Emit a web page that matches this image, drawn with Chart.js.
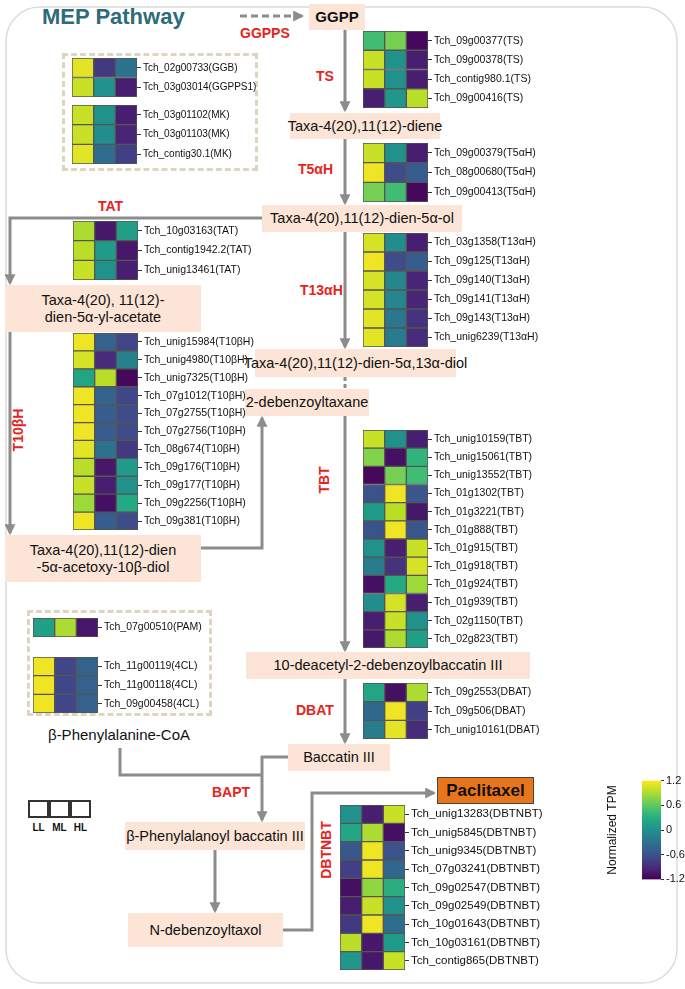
<!DOCTYPE html>
<html>
<head>
<meta charset="utf-8">
<script src="https://cdn.jsdelivr.net/npm/chart.js@4.4.1/dist/chart.umd.min.js"></script>
<style>
  html, body { margin: 0; padding: 0; background: #fff; }
  body { width: 685px; height: 989px; overflow: hidden; font-family: "Liberation Sans", Arial, sans-serif; }
  #stage { position: relative; width: 685px; height: 989px; }
  .box { position: absolute; background: #fce4d6; color: #111; font-size: 14.5px; display: flex; align-items: center; justify-content: center; text-align: center; line-height: 1.15; white-space: nowrap; }
  .enz { position: absolute; color: #e52421; font-weight: bold; font-size: 14px; white-space: nowrap; }
  .rot { transform: translate(-50%, -50%) rotate(-90deg); }
  .dash { position: absolute; border: 3px dashed #ddd5c0; box-sizing: border-box; }
  canvas { position: absolute; }
</style>
</head>
<body>
<div id="stage">
<svg width="685" height="989" style="position:absolute;left:0;top:0">
  <defs>
    <marker id="ah" viewBox="0 0 10 10" refX="8" refY="5" markerWidth="11" markerHeight="11" markerUnits="userSpaceOnUse" orient="auto">
      <path d="M0,0 L10,5 L0,10 z" fill="#8c8c8c"/>
    </marker>
  </defs>
  <rect x="6" y="7" width="671" height="976" rx="34" fill="none" stroke="#dcdcdc" stroke-width="1.5"/>
  <g stroke="#8c8c8c" stroke-width="3" fill="none">
    <line x1="240" y1="16" x2="302" y2="16" stroke-dasharray="7,4" marker-end="url(#ah)"/>
    <line x1="345" y1="30" x2="345" y2="110" marker-end="url(#ah)"/>
    <line x1="345" y1="139" x2="345" y2="203" marker-end="url(#ah)"/>
    <polyline points="262,218 10,218 10,283" marker-end="url(#ah)"/>
    <line x1="345" y1="232" x2="345" y2="347" marker-end="url(#ah)"/>
    <line x1="10" y1="332" x2="10" y2="533" marker-end="url(#ah)"/>
    <polyline points="201,548 262,548 262,418" marker-end="url(#ah)"/>
    <line x1="345" y1="377" x2="345" y2="389" stroke-dasharray="4,3"/>
    <line x1="345" y1="416" x2="345" y2="650" marker-end="url(#ah)"/>
    <line x1="345" y1="679" x2="345" y2="742" marker-end="url(#ah)"/>
    <polyline points="120,748 120,775 262,775"/>
    <polyline points="288,757 262,757 262,820" marker-end="url(#ah)"/>
    <line x1="215" y1="850" x2="215" y2="911" marker-end="url(#ah)"/>
    <polyline points="283,930 312,930 312,793 434,793" marker-end="url(#ah)"/>
  </g>
</svg>

<div style="position:absolute;left:42px;top:4px;font-size:22px;font-weight:bold;color:#2f6b78">MEP Pathway</div>
<div class="enz" style="left:240px;top:25px">GGPPS</div>
<div class="box" style="left:309px;top:4px;width:56px;height:26px;font-weight:bold;font-size:15px">GGPP</div>

<div class="dash" style="left:62px;top:53px;width:196px;height:118px"></div>
<div class="dash" style="left:27px;top:610px;width:185px;height:106px"></div>

<div class="enz" style="left:316px;top:68px">TS</div>
<div class="box" style="left:290px;top:113px;width:150px;height:26px">Taxa-4(20),11(12)-diene</div>
<div class="enz" style="left:298px;top:161px">T5αH</div>
<div class="box" style="left:262px;top:205px;width:200px;height:27px">Taxa-4(20),11(12)-dien-5α-ol</div>
<div class="enz" style="left:98px;top:198px">TAT</div>
<div class="enz" style="left:300px;top:282px">T13αH</div>
<div class="box" style="left:255px;top:349px;width:201px;height:28px">Taxa-4(20),11(12)-dien-5α,13α-diol</div>
<div class="box" style="left:5px;top:285px;width:196px;height:47px">Taxa-4(20), 11(12)-<br>dien-5α-yl-acetate</div>
<div class="enz rot" style="left:18px;top:430px">T10βH</div>
<div class="box" style="left:5px;top:535px;width:196px;height:47px">Taxa-4(20),11(12)-dien<br>-5α-acetoxy-10β-diol</div>
<div class="box" style="left:245px;top:389px;width:124px;height:27px">2-debenzoyltaxane</div>
<div class="enz rot" style="left:324px;top:480px">TBT</div>
<div class="box" style="left:246px;top:652px;width:284px;height:27px">10-deacetyl-2-debenzoylbaccatin III</div>
<div class="enz" style="left:296px;top:702px">DBAT</div>
<div class="box" style="left:288px;top:744px;width:102px;height:27px">Baccatin III</div>
<div class="box" style="left:437px;top:777px;width:97px;height:27px;background:#e8751a;border:1.5px solid #444;box-sizing:border-box;font-weight:bold;font-size:17px">Paclitaxel</div>
<div class="enz rot" style="left:326px;top:850px">DBTNBT</div>
<div style="position:absolute;left:48px;top:726px;font-size:15px;color:#111">β-Phenylalanine-CoA</div>
<div class="enz" style="left:212px;top:784px">BAPT</div>
<div class="box" style="left:125px;top:822px;width:180px;height:28px">β-Phenylalanoyl baccatin III</div>
<div class="box" style="left:128px;top:913px;width:155px;height:34px">N-debenzoyltaxol</div>

<div id="legend" style="position:absolute;left:28px;top:800px"></div>
</div>

<script>
// expression levels (columns of every heatmap)
const levels = ['LL', 'ML', 'HL'];

// normalized TPM (row z-scores)
const ggpsGenes = ['Tch_02g00733(GGB)', 'Tch_03g03014(GGPPS1)'];
const ggpsTPM = [[1.1, -0.8, -0.3], [1.0, 0.0, -1.0]];

const mkGenes = ['Tch_03g01102(MK)', 'Tch_03g01103(MK)', 'Tch_contig30.1(MK)'];
const mkTPM = [[1.0, 0.0, -1.0], [1.0, -0.05, -0.95], [1.1, -0.35, -0.75]];

const tsGenes = ['Tch_09g00377(TS)', 'Tch_09g00378(TS)', 'Tch_contig980.1(TS)', 'Tch_09g00416(TS)'];
const tsTPM = [[0.45, 0.7, -1.15], [1.0, 0.0, -1.0], [1.0, 0.0, -1.0], [-1.0, 0.05, 0.95]];

const t5Genes = ['Tch_09g00379(T5αH)', 'Tch_08g00680(T5αH)', 'Tch_09g00413(T5αH)'];
const t5TPM = [[1.0, 0.0, -1.0], [1.15, -0.65, -0.5], [0.7, 0.45, -1.15]];

const tatGenes = ['Tch_10g03163(TAT)', 'Tch_contig1942.2(TAT)', 'Tch_unig13461(TAT)'];
const tatTPM = [[0.9, -1.05, 0.15], [0.95, 0.1, -1.05], [1.0, 0.0, -1.0]];

const t13Genes = ['Tch_03g1358(T13αH)', 'Tch_09g125(T13αH)', 'Tch_09g140(T13αH)',
  'Tch_09g141(T13αH)', 'Tch_09g143(T13αH)', 'Tch_unig6239(T13αH)'];
const t13TPM = [[1.05, -0.05, -1.0], [1.15, -0.65, -0.5], [1.05, -0.1, -0.95],
  [1.05, -0.1, -0.95], [1.1, -0.25, -0.85], [1.1, -0.2, -0.9]];

const t10Genes = ['Tch_unig15984(T10βH)', 'Tch_unig4980(T10βH)', 'Tch_unig7325(T10βH)',
  'Tch_07g1012(T10βH)', 'Tch_07g2755(T10βH)', 'Tch_07g2756(T10βH)', 'Tch_08g674(T10βH)',
  'Tch_09g176(T10βH)', 'Tch_09g177(T10βH)', 'Tch_09g2256(T10βH)', 'Tch_09g381(T10βH)'];
const t10TPM = [[1.15, -0.45, -0.7], [1.05, -0.9, -0.15], [0.2, 0.95, -1.15],
  [1.15, -0.45, -0.7], [1.15, -0.5, -0.65], [1.15, -0.5, -0.65], [1.1, -0.3, -0.8],
  [0.95, -1.05, 0.1], [1.0, -1.0, 0.0], [0.85, -1.1, 0.25], [1.15, -0.5, -0.65]];

const tbtGenes = ['Tch_unig10159(TBT)', 'Tch_unig15061(TBT)', 'Tch_unig13552(TBT)',
  'Tch_01g1302(TBT)', 'Tch_01g3221(TBT)', 'Tch_01g888(TBT)', 'Tch_01g915(TBT)',
  'Tch_01g918(TBT)', 'Tch_01g924(TBT)', 'Tch_01g939(TBT)', 'Tch_02g1150(TBT)', 'Tch_02g823(TBT)'];
const tbtTPM = [[1.0, 0.0, -1.0], [0.75, -1.1, 0.35], [-1.15, 0.7, 0.45],
  [-0.6, 1.15, -0.55], [0.1, 0.95, -1.05], [-0.6, 1.15, -0.55], [0.0, -1.0, 1.0],
  [-0.2, -0.85, 1.05], [-1.1, 0.25, 0.85], [-0.05, 1.05, -1.0], [-1.0, 1.0, 0.0], [-1.05, 0.9, 0.15]];

const dbatGenes = ['Tch_09g2553(DBAT)', 'Tch_09g506(DBAT)', 'Tch_unig10161(DBAT)'];
const dbatTPM = [[0.2, -1.1, 0.9], [-0.4, 1.15, -0.75], [-0.2, 1.1, -0.9]];

const pamGenes = ['Tch_07g00510(PAM)'];
const pamTPM = [[0.15, 0.9, -1.05]];

const clGenes = ['Tch_11g00119(4CL)', 'Tch_11g00118(4CL)', 'Tch_09g00458(4CL)'];
const clTPM = [[1.15, -0.7, -0.45], [1.15, -0.7, -0.45], [1.15, -0.7, -0.45]];

const dbtnbtGenes = ['Tch_unig13283(DBTNBT)', 'Tch_unig5845(DBTNBT)', 'Tch_unig9345(DBTNBT)',
  'Tch_07g03241(DBTNBT)', 'Tch_09g02547(DBTNBT)', 'Tch_09g02549(DBTNBT)',
  'Tch_10g01643(DBTNBT)', 'Tch_10g03161(DBTNBT)', 'Tch_contig865(DBTNBT)'];
const dbtnbtTPM = [[0.0, -1.0, 1.0], [0.2, 0.9, -1.1], [-0.55, 1.15, -0.6],
  [-0.75, 1.15, -0.4], [-1.1, 0.8, 0.3], [-1.0, 1.0, 0.0],
  [-0.8, 1.15, -0.35], [0.95, -1.05, 0.1], [0.05, -1.05, 1.0]];

// colour bar
const colorRange = [-1.2, 1.2];
const colorStep = 0.6;

// viridis
const viridisStops = ['#440154', '#482475', '#414487', '#355f8d', '#2a788e', '#21918c',
  '#22a884', '#44bf70', '#7ad151', '#bddf26', '#fde725'];

function hexToRgb(h) {
  return [parseInt(h.slice(1, 3), 16), parseInt(h.slice(3, 5), 16), parseInt(h.slice(5, 7), 16)];
}

function viridis(v) {
  let t = (v - colorRange[0]) / (colorRange[1] - colorRange[0]);
  t = Math.max(0, Math.min(1, t));
  const p = t * (viridisStops.length - 1);
  const i = Math.min(viridisStops.length - 2, Math.floor(p));
  const f = p - i;
  const a = hexToRgb(viridisStops[i]), b = hexToRgb(viridisStops[i + 1]);
  const c = a.map((x, k) => Math.round(x + (b[k] - x) * f));
  return `rgb(${c[0]},${c[1]},${c[2]})`;
}

const CELL_W = 21.7;
const stage = document.getElementById('stage');

function heatmap(genes, tpm, x, y, rowH, labelW, fontSize) {
  const cv = document.createElement('canvas');
  const w = Math.round(CELL_W * levels.length + labelW);
  const h = Math.round(rowH * genes.length);
  cv.width = w;
  cv.height = h;
  cv.style.left = x + 'px';
  cv.style.top = y + 'px';
  stage.appendChild(cv);

  new Chart(cv, {
    type: 'bar',
    data: {
      labels: genes,
      datasets: levels.map((lv, j) => ({
        label: lv,
        data: genes.map(() => 1),
        backgroundColor: tpm.map(r => viridis(r[j])),
        borderColor: '#555',
        borderWidth: 1,
        borderSkipped: false,
        barPercentage: 1,
        categoryPercentage: 1
      }))
    },
    options: {
      indexAxis: 'y',
      responsive: false,
      animation: false,
      layout: { padding: 0 },
      plugins: { legend: { display: false }, tooltip: { enabled: false } },
      scales: {
        x: { stacked: true, min: 0, max: levels.length, display: false },
        y: {
          stacked: true,
          position: 'right',
          border: { display: false },
          grid: { drawOnChartArea: false, offset: false, tickLength: 4, color: '#333' },
          ticks: { color: '#111', padding: 2, font: { size: fontSize, family: 'Liberation Sans' } },
          afterFit: s => { s.width = labelW; s.paddingTop = 0; s.paddingBottom = 0; }
        }
      }
    }
  });
}

heatmap(ggpsGenes, ggpsTPM, 72, 58, 19.5, 125, 10);
heatmap(mkGenes, mkTPM, 72, 105, 19.5, 125, 10);
heatmap(tsGenes, tsTPM, 363, 31, 19.25, 170, 10.5);
heatmap(t5Genes, t5TPM, 363, 143, 19.7, 170, 10.5);
heatmap(tatGenes, tatTPM, 73, 221, 19.7, 150, 10.5);
heatmap(t13Genes, t13TPM, 363, 233, 19, 170, 10.5);
heatmap(t10Genes, t10TPM, 73, 333, 17.9, 150, 10.5);
heatmap(tbtGenes, tbtTPM, 363, 430, 18.2, 170, 10.5);
heatmap(dbatGenes, dbatTPM, 363, 683, 18.5, 170, 10.5);
heatmap(pamGenes, pamTPM, 33, 618, 19, 140, 10.5);
heatmap(clGenes, clTPM, 33, 657, 18.5, 140, 10.5);
heatmap(dbtnbtGenes, dbtnbtTPM, 340, 805, 18.3, 200, 11.5);

// colour bar
(function () {
  const cv = document.createElement('canvas');
  cv.width = 90;
  cv.height = 116;
  cv.style.left = '595px';
  cv.style.top = '772px';
  stage.appendChild(cv);
  new Chart(cv, {
    type: 'bar',
    data: {
      labels: [''],
      datasets: [{
        data: [colorRange],
        yAxisID: 'y',
        barPercentage: 1,
        categoryPercentage: 1,
        backgroundColor: c => {
          const a = c.chart.chartArea;
          if (!a) return viridisStops[5];
          const g = c.chart.ctx.createLinearGradient(0, a.bottom, 0, a.top);
          viridisStops.forEach((s, i) => g.addColorStop(i / (viridisStops.length - 1), s));
          return g;
        }
      }]
    },
    options: {
      responsive: false,
      animation: false,
      layout: { padding: { top: 7, bottom: 7 } },
      plugins: { legend: { display: false }, tooltip: { enabled: false } },
      scales: {
        x: { display: false },
        y: {
          position: 'right', min: colorRange[0], max: colorRange[1],
          border: { display: false },
          grid: { drawOnChartArea: false, tickLength: 3, color: '#333' },
          ticks: {
            stepSize: colorStep, color: '#111', padding: 2,
            font: { size: 11, family: 'Liberation Sans' },
            callback: v => Math.abs(v) < 1e-9 ? '0' : String(+v.toFixed(1))
          },
          afterFit: s => { s.width = 24; }
        },
        yl: {
          position: 'left', min: colorRange[0], max: colorRange[1],
          border: { display: false },
          grid: { display: false },
          ticks: { display: false },
          title: { display: true, text: 'Normalized TPM', color: '#111', padding: { top: 10, bottom: 0 },
            font: { size: 12, family: 'Liberation Sans' } },
          afterFit: s => { s.width = 47; }
        }
      }
    }
  });
})();

// LL / ML / HL key
(function () {
  const lg = document.getElementById('legend');
  levels.forEach((lv, i) => {
    const b = document.createElement('div');
    b.style.cssText = `position:absolute;left:${i * 21}px;top:0;width:21px;height:18px;border:2px solid #333;box-sizing:border-box;background:#fff`;
    lg.appendChild(b);
    const t = document.createElement('div');
    t.textContent = lv;
    t.style.cssText = `position:absolute;left:${i * 21}px;top:22px;width:21px;text-align:center;font-size:10px;font-weight:bold;color:#111`;
    lg.appendChild(t);
  });
})();
</script>
</body>
</html>
